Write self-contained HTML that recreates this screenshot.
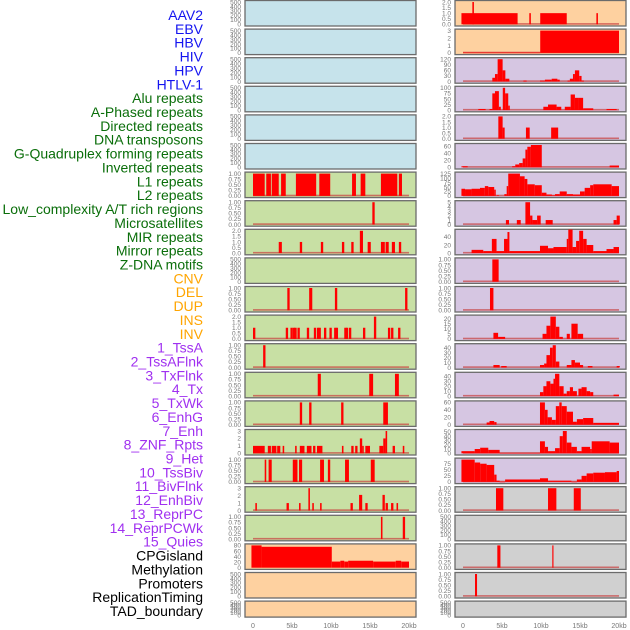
<!DOCTYPE html>
<html><head><meta charset="utf-8"><style>
html,body{margin:0;padding:0;background:#fff;}
svg{display:block;}
</style></head><body>
<svg id="chart" width="630" height="630" viewBox="0 0 630 630" xmlns="http://www.w3.org/2000/svg"></svg>
<script>
const labels = ["AAV2","EBV","HBV","HIV","HPV","HTLV-1","Alu repeats","A-Phased repeats","Directed repeats","DNA transposons","G-Quadruplex forming repeats","Inverted repeats","L1 repeats","L2 repeats","Low_complexity A/T rich regions","Microsatellites","MIR repeats","Mirror repeats","Z-DNA motifs","CNV","DEL","DUP","INS","INV","1_TssA","2_TssAFlnk","3_TxFlnk","4_Tx","5_TxWk","6_EnhG","7_Enh","8_ZNF_Rpts","9_Het","10_TssBiv","11_BivFlnk","12_EnhBiv","13_ReprPC","14_ReprPCWk","15_Quies","CPGisland","Methylation","Promoters","ReplicationTiming","TAD_boundary"];
const labelGroups = [6,13,5,15,5];
const groupColors = ["#1414f0","#0a6e0a","#ffa500","#a030f0","#000000"];
const xTicks = [0,5,10,15,20];
const xTickLabels = ["0","5kb","10kb","15kb","20kb"];

const leftFill = ["b","b","b","b","b","b","g","g","g","g","g","g","g","g","g","g","g","g","g","p","p","p"];
const rightFill = ["p","p","l","l","l","l","l","l","l","l","l","l","l","l","l","l","l","y","y","y","y","y"];
const leftMax = [500,500,500,500,500,500,1,1,2,500,1,2,1,1,1,3,1,3,1,80,500,500];
const rightMax = [2,3,120,100,2,63,125,5,55,1,1,22,45,45,60,52,92,1,500,1,1,500];
const T500 = [0,100,200,300,400,500], T1 = [0,0.25,0.5,0.75,1], T2 = [0,0.5,1,1.5,2];
const leftTicks = [T500,T500,T500,T500,T500,T500,T1,T1,T2,T500,T1,T2,T1,T1,T1,[0,1,2,3],T1,[0,1,2,3],T1,[0,20,40,60,80],T500,T500];
const rightTicks = [T2,[0,1,2,3],[0,30,60,90,120],[0,25,50,75,100],T2,[0,20,40,60],[0,25,50,75,100,125],[0,1,2,3,4,5],[0,20,40],T1,T1,[0,5,10,15,20],[0,10,20,30,40],[0,10,20,30,40],[0,20,40,60],[0,10,20,30,40,50],[0,25,50,75],T1,T500,T1,T1,T500];

const leftBars = [[],[],[],[],[],[],
 [[0,1.5,1],[1.7,2.3,1],[2.4,3.3,1],[3.6,4.2,1],[5.5,8.1,1],[8.5,9.9,1],[12.7,13.2,1],[13.8,14.4,1],[16.4,18.5,1],[18.7,19.1,1]],
 [[15.3,15.6,1]],
 [[3.3,3.7,1],[6.0,6.3,1],[8.7,9.0,1],[11.4,11.7,1],[12.6,12.9,1],[13.7,14.1,2],[14.7,15.1,1],[16.4,16.9,1],[17.0,17.4,1],[17.8,18.2,1],[18.7,19.0,1]],
 [],
 [[4.4,4.7,1],[7.2,7.6,1],[10.5,10.8,1],[19.5,19.8,1]],
 [[0,0.3,1],[4.2,4.5,1],[4.8,5.1,1],[5.1,5.4,1],[5.3,5.6,1],[5.7,6.0,1],[6.9,7.2,1],[7.8,8.1,1],[8.2,8.5,1],[8.4,8.7,1],[9.1,9.4,1],[9.8,10.1,1],[10.4,10.7,1],[10.6,10.9,1],[11.7,12.0,1],[11.9,12.2,1],[12.3,12.6,1],[14.1,14.4,1],[15.5,15.8,2],[17.3,17.6,1],[17.7,18.0,1],[18.6,18.9,1]],
 [[1.3,1.6,1]],
 [[8.3,8.7,1],[14.9,15.4,1],[18.2,18.7,1]],
 [[6.0,6.3,1],[7.2,7.5,1],[11.3,11.6,1],[16.7,17.3,1]],
 [[0,1.5,1],[1.9,2.3,1],[2.4,3.0,1],[3.1,3.5,1],[3.8,4.0,1],[5.4,5.6,1],[6.0,6.6,1],[6.9,7.5,1],[7.7,8.0,1],[8.2,8.9,1],[11.4,11.6,1],[12.6,12.9,1],[13.1,13.4,1],[13.7,14.0,2],[14.0,14.2,1],[14.4,15.0,1],[16.2,16.7,1],[16.7,17.0,2],[17.0,17.2,3],[17.9,18.2,1],[19.2,19.4,1]],
 [[1.5,1.7,1],[2.0,2.4,1],[5.1,5.7,1],[5.9,6.3,1],[8.6,9.1,1],[9.6,9.9,1],[11.8,12.3,1],[15.1,15.6,1]],
 [[0.3,0.5,1],[4.3,4.6,1],[5.9,6.1,1],[7.1,7.3,3],[7.6,7.8,1],[8.6,8.8,1],[12.5,12.8,1],[13.6,14.0,2.1],[14.4,14.7,1],[16.6,16.9,2.1],[17.0,17.3,1],[17.7,18.0,1],[18.4,18.6,1]],
 [[16.4,16.6,1],[19.2,19.5,1]],
 [[-0.2,1.1,80],[1.1,10.1,75],[10.1,11.2,22],[11.2,11.7,25],[11.7,12.2,22],[12.2,15.4,25],[15.4,18.3,22],[18.3,19.0,25],[19.0,20.0,22]],
 [],[]];

const rightBars = [
 [[-0.2,7.0,1],[1.2,1.4,2],[8.5,8.7,1],[9.9,13.3,1],[17.1,17.3,1]],
 [[0,9.9,0.05],[9.9,20.0,3]],
 [[3.76,4.1,20],[4.1,4.44,40],[4.44,5.08,120],[5.08,5.43,60],[5.43,5.94,15],[7.74,8.16,5],[9.87,10.5,5],[10.5,11.37,10],[11.37,12.1,15],[12.1,12.4,10],[13.4,13.7,5],[13.7,14.1,15],[14.1,14.35,40],[14.35,14.9,60],[14.9,15.2,30],[15.2,15.5,5]],
 [[1.96,2.9,5],[3.4,3.76,5],[3.76,4.1,75],[4.1,4.6,85],[4.6,4.85,15],[5.1,5.4,100],[5.4,5.8,75],[5.8,6.0,20],[10.3,10.9,15],[10.9,12.0,25],[12.0,12.6,15],[13.05,13.8,15],[13.8,14.35,70],[14.35,14.8,55],[14.8,15.4,55],[15.4,16.7,8],[18.4,19.7,5]],
 [[4.53,5.08,2],[5.08,5.34,1],[8.07,8.55,1],[11.3,12.2,1]],
 [[-0.2,0.6,3],[6.3,6.7,3],[6.7,7.2,8],[7.2,7.65,12],[7.65,8.0,25],[8.0,8.25,50],[8.25,8.7,58],[8.7,10.1,63],[18.8,20.0,5]],
 [[-0.2,0.26,40],[0.26,1.1,37],[1.1,2.18,40],[2.18,2.8,45],[2.8,3.24,55],[3.24,4.0,50],[4.0,4.2,35],[4.3,4.6,3],[5.3,5.6,10],[5.6,5.8,55],[5.8,7.3,125],[7.3,7.9,110],[7.9,8.25,95],[8.25,9.2,65],[9.2,10.1,60],[10.1,10.7,18],[10.7,11.4,8],[11.4,11.8,3],[11.8,12.4,10],[12.4,13.3,25],[13.3,14.1,10],[14.1,15.0,8],[15.0,15.6,25],[15.6,16.3,45],[16.3,16.7,60],[16.7,19.06,65],[19.06,20.0,55]],
 [[5.5,5.9,1],[6.9,7.4,1],[8.0,8.6,5],[8.6,8.9,2],[8.9,9.5,1],[9.5,9.96,2],[10.6,11.5,1],[19.3,19.7,1],[19.7,20.1,2]],
 [[1.1,2.6,8],[2.6,3.7,5],[3.7,4.3,35],[4.3,5.26,5],[5.26,5.7,35],[5.7,5.95,52],[5.95,9.87,5],[9.87,10.9,18],[10.9,11.6,12],[11.6,13.3,15],[13.3,13.5,35],[13.5,14.05,58],[14.05,14.5,15],[14.5,14.9,30],[14.9,15.4,55],[15.4,15.85,35],[15.85,16.7,20],[16.7,18.4,5],[18.4,19.3,10],[19.3,20.0,15]],
 [[3.76,4.57,1]],
 [[3.46,3.9,1]],
 [[3.9,4.5,6],[4.5,5.4,2],[10.2,10.7,5],[10.7,11.2,13],[11.2,11.9,22],[11.9,12.35,12],[12.35,12.8,2],[13.3,13.7,5],[13.9,14.7,15],[14.7,15.4,5]],
 [[3.9,4.7,5],[4.9,5.6,3],[9.87,10.4,5],[10.4,10.7,8],[10.7,11.15,25],[11.15,11.5,40],[11.5,11.9,45],[11.9,12.35,12],[13.3,13.9,5],[13.9,14.35,15],[14.35,15.0,10],[15.0,15.4,5],[16.0,16.6,3],[19.7,20.1,3]],
 [[9.87,10.3,8],[10.3,10.7,20],[10.7,11.2,30],[11.2,11.6,25],[11.6,11.8,35],[11.8,12.35,45],[12.35,12.9,20],[12.9,13.3,5],[13.3,13.7,10],[13.7,14.1,18],[14.1,14.6,10],[14.8,15.2,15],[15.2,15.85,18],[15.85,16.3,10],[16.3,16.7,8],[19.3,20.0,3]],
 [[3.03,3.4,6],[3.4,4.0,10],[4.0,4.3,7],[9.87,10.5,60],[10.5,10.85,40],[10.85,11.4,20],[11.4,11.9,13],[11.9,12.35,50],[12.35,12.65,60],[12.65,13.3,50],[13.3,14.1,35],[14.1,14.6,8],[14.6,15.4,15],[15.4,16.7,18],[16.7,20.0,5]],
 [[-0.2,1.5,5],[1.5,2.2,10],[2.2,3.24,13],[3.24,4.7,8],[4.7,9.87,1],[9.87,10.5,28],[10.5,10.9,15],[10.9,11.8,5],[11.8,12.4,12],[12.4,12.8,40],[12.8,13.3,52],[13.3,13.9,25],[13.9,14.6,15],[14.6,15.2,5],[15.2,16.3,15],[16.3,16.5,10],[16.5,18.8,28],[18.8,20.0,25]],
 [[-0.2,1.5,92],[1.5,2.2,80],[2.2,3.03,75],[3.03,4.0,70],[4.0,4.3,30],[4.3,4.7,5],[4.7,5.4,1],[5.4,9.87,10],[9.87,10.9,15],[10.9,13.9,5],[13.9,14.6,1],[14.6,15.2,10],[15.2,15.85,25],[15.85,16.7,35],[16.7,18.2,38],[18.2,19.7,40],[19.7,20.0,45]],
 [[4.23,5.17,1],[10.9,11.97,1],[14.2,15.1,1]],
 [],
 [[4.4,4.8,1],[11.45,11.6,1]],
 [[1.54,1.8,1]],
 []];

const NS = "http://www.w3.org/2000/svg";
const svg = document.getElementById("chart");
function mk(tag, attrs, parent){const e=document.createElementNS(NS,tag);for(const k in attrs)e.setAttribute(k,attrs[k]);(parent||svg).appendChild(e);return e;}
const fills = {b:"#c6e3eb",g:"#c8e0a4",p:"#fed1a0",l:"#d6c6e2",y:"#d0d0d0"};

// labels
let gi=0, cnt=0;
labels.forEach((t,i)=>{
  while(cnt>=labelGroups[gi]){cnt-=labelGroups[gi];gi++;}
  cnt++;
  const el=mk("text",{x:203,y:15+i*13.86+5,"text-anchor":"end","font-family":"Liberation Sans, sans-serif","font-size":"14",fill:groupColors[gi]});
  el.textContent=t;
  
  
});

function panelGeom(i){const top=i*28.6;const h=(i===21)?16:25.5;return {top,h};}
function drawColumn(x0, fillArr, maxArr, tickArr, barsArr, side){
  for(let i=0;i<22;i++){
    const g=panelGeom(i);
    const grp=mk("g",{});
    
    
    const r=mk("rect",{x:x0,y:g.top+0.5,width:171,height:g.h,fill:fills[fillArr[i]],stroke:"#6b6b6b","stroke-width":1.3},grp);
    
    
    const y0=g.top+g.h-1.2, y1=g.top+2;
    const ys=v=>y0-(v/maxArr[i])*(y0-y1);
    const xs=k=>x0+8+k*7.8;
    tickArr[i].forEach(v=>{
      const t=mk("text",{x:x0-4,y:ys(v)+2.3,"text-anchor":"end","font-family":"Liberation Sans, sans-serif","font-size":"6.5",fill:"#777"},grp);
      t.textContent=(maxArr[i]===1)?v.toFixed(2):(maxArr[i]<=2&&v%1!==0||maxArr[i]===2)?v.toFixed(1):String(v);
      
      
    });
    const bars=barsArr[i];
    if(bars.length && !(side==="left"&&i===19)){
      const bl=mk("rect",{x:xs(0),y:y0-1.2,width:xs(20)-xs(0),height:1.6,fill:"#c84040",opacity:0.7},grp);
      
      
    }
    bars.forEach(b=>{
      const yy=ys(b[2]);
      const bar=mk("rect",{x:xs(b[0]),y:yy,width:Math.max(1,xs(b[1])-xs(b[0])),height:Math.max(0.6,y0-yy),fill:"#ff0000"},grp);
      
      
    });
  }
  xTicks.forEach((k,j)=>{
    const t=mk("text",{x:x0+8+k*7.8,y:628,"text-anchor":"middle","font-family":"Liberation Sans, sans-serif","font-size":"7",fill:"#777"});
    t.textContent=xTickLabels[j];
    
    
  });
}
drawColumn(245,leftFill,leftMax,leftTicks,leftBars,"left");
drawColumn(455,rightFill,rightMax,rightTicks,rightBars,"right");
</script>
</body></html>
